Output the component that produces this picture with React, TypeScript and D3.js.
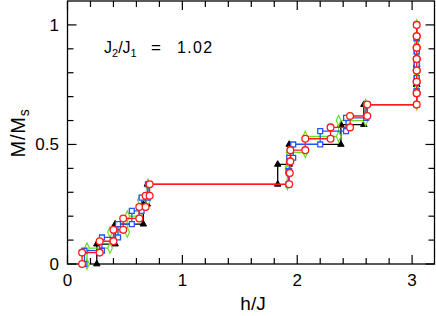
import React, { useEffect, useRef } from "react";
import * as d3 from "d3";

// --- Data: critical fields h_k where M jumps from (k-1)/N to k/N ---
const blackSteps = 12;
const blackFields = [0.255, 0.415, 0.66, 0.695, 1.83, 1.93, 2.38, 2.58, 3.04, 3.04, 3.04, 3.04];

const greenSteps = 15;
const greenFields = [0.17, 0.37, 0.52, 0.63, 0.7, 1.915, 1.925, 2.07, 2.36, 2.595, 3.04, 3.04, 3.04, 3.04, 3.04];

const blueSteps = 18;
const blueFields = [0.148, 0.3, 0.44, 0.56, 0.645, 0.7, 1.925, 1.93, 1.965, 2.2, 2.425, 2.6, 3.04, 3.04, 3.04, 3.04, 3.04, 3.04];

const redSteps = 21;
const redFields = [0.127, 0.28, 0.4, 0.485, 0.625, 0.68, 0.715, 1.93, 1.935, 1.94, 2.07, 2.29, 2.46, 2.61, 3.04, 3.04, 3.04, 3.04, 3.04, 3.04, 3.04];

const xTickValues = [0, 1, 2, 3];
const xTickLabels = ["0", "1", "2", "3"];
const yTickValues = [0, 0.5, 1];
const yTickLabels = ["0", "0.5", "1"];

const series = [
    { name: "black", fields: blackFields, steps: blackSteps, color: "#000000", fill: "#000000", symbol: d3.symbolTriangle, size: 18 },
    { name: "green", fields: greenFields, steps: greenSteps, color: "#66dd22", fill: "#ffffff", symbol: d3.symbolDiamond, size: 26 },
    { name: "blue", fields: blueFields, steps: blueSteps, color: "#2255ff", fill: "#ffffff", symbol: d3.symbolSquare, size: 24 },
    { name: "red", fields: redFields, steps: redSteps, color: "#ff1a1a", fill: "#ffffff", symbol: d3.symbolCircle, size: 36 },
];

const width = 436;
const height = 316;
const font = "'Liberation Sans', Arial, sans-serif";

function stepPoints(fields: number[], n: number): [number, number][] {
    const pts: [number, number][] = [];
    fields.forEach((h, i) => {
        pts.push([h, i / n]);
        pts.push([h, (i + 1) / n]);
    });
    return pts;
}

export default function App() {
    const svgRef = useRef<SVGSVGElement>(null);

    useEffect(() => {
        const svg = d3.select(svgRef.current);
        svg.selectAll("*").remove();

        const x = d3.scaleLinear().domain([0, 3.195]).range([67.5, 434.5]);
        const y = d3.scaleLinear().domain([0, 1.1]).range([264, 1]);

        const [x0, x1] = x.range();
        const [y0, y1] = y.range();

        // --- Frame ---
        svg.append("rect")
            .attr("x", x0).attr("y", y1)
            .attr("width", x1 - x0).attr("height", y0 - y1)
            .attr("fill", "none").attr("stroke", "#000").attr("stroke-width", 1.3);

        // --- Ticks (inward, all sides) ---
        const xMinor = d3.range(0, 3.2, 0.2).map(v => +v.toFixed(2)).filter(v => !xTickValues.includes(v) && v < 3.19);
        const yMinor = d3.range(0, 1.1, 0.1).map(v => +v.toFixed(2)).filter(v => !yTickValues.includes(v));
        const ticks = svg.append("g").attr("stroke", "#000").attr("stroke-width", 1.2);

        const xt = (v: number, len: number) => {
            ticks.append("line").attr("x1", x(v)).attr("x2", x(v)).attr("y1", y0).attr("y2", y0 - len);
            ticks.append("line").attr("x1", x(v)).attr("x2", x(v)).attr("y1", y1).attr("y2", y1 + len);
        };
        const yt = (v: number, len: number) => {
            ticks.append("line").attr("y1", y(v)).attr("y2", y(v)).attr("x1", x0).attr("x2", x0 + len);
            ticks.append("line").attr("y1", y(v)).attr("y2", y(v)).attr("x1", x1).attr("x2", x1 - len);
        };
        xTickValues.forEach(v => xt(v, 9));
        xMinor.forEach(v => xt(v, 6));
        yTickValues.forEach(v => yt(v, 9));
        yMinor.forEach(v => yt(v, 6));

        // --- Tick labels ---
        svg.append("g").selectAll("text")
            .data(xTickValues)
            .join("text")
            .attr("x", d => x(d))
            .attr("y", 286)
            .attr("text-anchor", "middle")
            .attr("font-family", font)
            .attr("font-size", 17)
            .text((d, i) => xTickLabels[i]);

        svg.append("g").selectAll("text")
            .data(yTickValues)
            .join("text")
            .attr("x", 59)
            .attr("y", d => y(d) + 6)
            .attr("text-anchor", "end")
            .attr("font-family", font)
            .attr("font-size", 17)
            .text((d, i) => yTickLabels[i]);

        // --- Curves ---
        const line = d3.line<[number, number]>().x(d => x(d[0])).y(d => y(d[1]));

        series.forEach(s => {
            const pts = stepPoints(s.fields, s.steps);
            const g = svg.append("g");
            g.append("path")
                .attr("d", line(pts))
                .attr("fill", "none")
                .attr("stroke", s.color)
                .attr("stroke-width", 1.3);
            const sym = d3.symbol().type(s.symbol).size(s.size);
            g.selectAll("path.m")
                .data(pts)
                .join("path")
                .attr("class", "m")
                .attr("d", sym)
                .attr("transform", d => `translate(${x(d[0])},${y(d[1])})` + (s.name === "green" ? " scale(0.85,1.1)" : ""))
                .attr("fill", s.fill)
                .attr("stroke", s.color)
                .attr("stroke-width", s.name === "black" ? 1 : 1.3);
        });

        // --- Annotation ---
        const ann = svg.append("g").attr("font-family", font).attr("font-size", 16);
        const j = ann.append("text").attr("x", 104).attr("y", 53);
        j.append("tspan").text("J");
        j.append("tspan").attr("font-size", 11).attr("dy", 4).text("2");
        j.append("tspan").attr("dy", -4).text("/J");
        j.append("tspan").attr("font-size", 11).attr("dy", 4).text("1");
        ann.append("text").attr("x", 151).attr("y", 53).attr("font-size", 17).text("=");
        ann.append("text").attr("x", 177).attr("y", 53).attr("letter-spacing", 1.3).text("1.02");

        // --- Axis labels ---
        svg.append("text")
            .attr("x", 253)
            .attr("y", 310)
            .attr("text-anchor", "middle")
            .attr("font-family", font)
            .attr("font-size", 19)
            .text("h/J");

        const yl = svg.append("text")
            .attr("transform", `translate(25,133) rotate(-90)`)
            .attr("text-anchor", "middle")
            .attr("font-family", font)
            .attr("font-size", 20)
            .attr("letter-spacing", 0.8);
        yl.append("tspan").text("M/M");
        yl.append("tspan").attr("font-size", 14).attr("dy", 4).text("s");
    }, []);

    return (
        <svg
            ref={svgRef}
            width={width}
            height={height}
            style={{ position: "absolute", left: 0, top: 0, background: "#fff" }}
        />
    );
}
